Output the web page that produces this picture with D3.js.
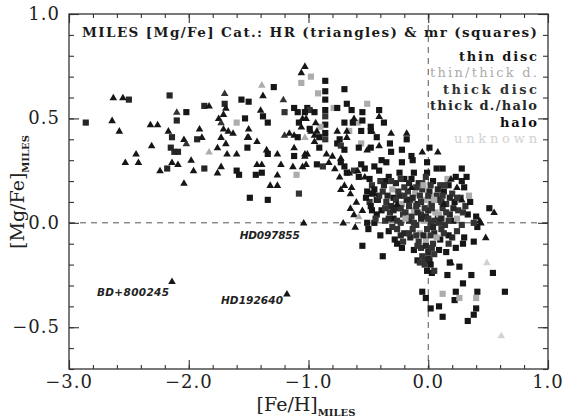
<!DOCTYPE html>
<html><head><meta charset="utf-8">
<script src="https://cdn.jsdelivr.net/npm/d3@7"></script>
<style>body{margin:0;background:#fff}svg{display:block}</style>
</head><body><svg id="c" width="574" height="419"></svg>
<script>
// ---- data ----
const X_TICKS = [-3, -2, -1, 0, 1];
const X_TICK_LABELS = ["\u22123.0", "\u22122.0", "\u22121.0", "0.0", "1.0"];
const Y_TICKS = [1, 0.5, 0, -0.5];
const Y_TICK_LABELS = ["1.0", "0.5", "0.0", "\u22120.5"];
const TITLE = "MILES [Mg/Fe] Cat.: HR (triangles) & mr (squares)";
const LEGEND_LABELS = ["thin disc", "thin/thick d.", "thick disc", "thick d./halo", "halo", "unknown"];
const POP_COLORS = ["#161616", "#acacac", "#333333", "#262626", "#0c0c0c", "#d2d2d2"];
const ANNOT_NAMES = ["HD097855", "BD+800245", "HD192640"];
const ANNOT_FEH = [-1.04, -2.14, -1.18];
const ANNOT_MGFE = [0.00, -0.28, -0.34];

// HR stars (triangles): [Fe/H], [Mg/Fe], population code
const HR_STARS = [
[-2.63,0.60,0],[-2.55,0.60,0],[-2.64,0.49,0],[-2.58,0.44,0],[-2.32,0.47,0],[-2.26,0.47,0],[-2.31,0.37,0],[-2.44,0.33,0],
[-2.53,0.29,0],[-2.42,0.29,0],[-2.24,0.25,0],[-2.10,0.53,2],[-2.17,0.44,0],[-2.04,0.40,0],[-2.02,0.38,2],[-2.14,0.29,0],
[-2.09,0.28,0],[-2.04,0.19,0],[-1.98,0.30,0],[-1.96,0.25,0],[-1.83,0.56,0],[-1.91,0.45,0],[-1.89,0.41,0],[-1.83,0.34,1],
[-1.76,0.36,0],[-1.73,0.27,0],[-1.76,0.24,0],[-1.68,0.33,0],[-1.60,0.33,0],[-1.73,0.41,0],[-1.69,0.38,0],[-1.75,0.50,0],
[-1.73,0.48,2],[-1.71,0.52,0],[-1.69,0.55,0],[-1.70,0.62,2],[-1.67,0.44,0],[-1.63,0.43,0],[-1.71,0.45,0],[-1.51,0.41,0],
[-1.03,0.75,0],[-1.06,0.72,0],[-1.39,0.66,1],[-1.38,0.61,0],[-1.21,0.59,2],[-1.40,0.54,0],[-1.02,0.50,0],[-0.94,0.48,0],
[-0.41,0.51,0],[-0.62,0.50,0],[-1.50,0.45,0],[-1.50,0.41,0],[-1.43,0.39,0],[-1.35,0.35,0],[-1.26,0.33,0],[-1.20,0.42,2],
[-1.16,0.43,0],[-1.12,0.42,0],[-1.03,0.41,1],[-0.98,0.44,0],[-0.95,0.42,0],[-1.12,0.36,0],[-1.03,0.33,0],[-0.76,0.44,0],
[-0.85,0.33,0],[-0.68,0.41,0],[-0.51,0.35,0],[-0.47,0.44,0],[-1.43,0.28,0],[-1.39,0.28,0],[-1.23,0.28,0],[-1.13,0.27,0],
[-1.05,0.27,0],[-0.78,0.26,0],[-1.26,0.23,0],[-1.32,0.18,0],[-1.26,0.18,0],[-1.04,0.00,0],[-0.71,0.00,0],[-0.61,-0.02,0],
[-0.74,0.22,0],[-0.70,0.18,0],[-0.73,0.16,0],[-0.64,0.17,0],[-0.65,0.14,0],[-0.60,0.10,0],[-0.65,0.07,0],[-0.62,0.04,0],
[-0.55,0.06,0],[-0.58,0.03,1],[-1.05,0.50,0],[-1.06,0.46,0],[-0.93,0.44,0],[-0.95,0.39,0],[-1.03,0.32,0],[-1.01,0.33,0],
[-0.73,0.31,0],[-0.68,0.44,0],[-0.66,0.24,0],[-0.41,0.37,0],[-0.59,0.25,0],[-0.53,0.22,0],[-1.02,0.28,0],[-0.83,0.29,0],
[-0.80,0.32,0],[-0.31,0.43,0],[-0.18,0.43,0],[-0.05,0.34,0],[0.08,0.34,0],[0.19,0.21,0],[0.24,0.17,0],[0.55,0.05,0],
[0.43,0.01,0],[0.19,-0.19,0],[0.48,-0.07,0],[0.49,-0.19,5],[0.61,-0.54,5],[-2.14,-0.28,0],[-1.18,-0.34,0],[0.44,0.00,0],
[-0.45,0.14,0],[-0.26,0.09,0],[-0.14,0.17,0],[0.13,0.09,0],[0.28,0.11,0]
];

// mr stars (squares): [Fe/H], [Mg/Fe], population code
const MR_STARS = [
[-2.86,0.48,3],[-2.50,0.59,3],[-2.18,0.26,3],[-2.16,0.61,3],[-2.10,0.49,3],[-2.02,0.53,0],[-2.14,0.41,3],[-2.15,0.36,3],
[-2.12,0.34,3],[-2.09,0.34,3],[-1.87,0.56,3],[-1.93,0.40,3],[-1.87,0.26,3],[-1.70,0.57,3],[-1.56,0.59,0],[-1.60,0.48,1],
[-1.53,0.50,0],[-1.60,0.25,0],[-1.58,0.23,0],[-1.51,0.36,0],[-0.98,0.70,1],[-1.06,0.67,1],[-1.29,0.65,0],[-0.86,0.68,0],
[-0.86,0.63,0],[-0.86,0.59,0],[-0.86,0.54,0],[-0.86,0.51,2],[-0.86,0.47,0],[-0.86,0.43,0],[-0.86,0.40,2],[-0.92,0.62,1],
[-0.70,0.64,0],[-1.50,0.58,0],[-1.38,0.51,0],[-1.34,0.48,0],[-1.12,0.55,0],[-1.20,0.53,2],[-1.09,0.53,0],[-1.01,0.55,0],
[-0.99,0.54,2],[-0.95,0.53,0],[-1.03,0.53,0],[-1.08,0.48,0],[-0.90,0.46,1],[-0.99,0.45,0],[-0.79,0.55,1],[-0.76,0.55,0],
[-0.68,0.57,0],[-0.64,0.54,0],[-0.51,0.57,1],[-0.55,0.53,0],[-0.41,0.54,0],[-0.70,0.48,0],[-0.59,0.48,1],[-0.55,0.49,0],
[-0.66,0.44,1],[-0.48,0.44,0],[-1.34,0.33,0],[-1.09,0.41,0],[-0.91,0.41,0],[-1.12,0.32,0],[-0.91,0.36,0],[-0.76,0.38,0],
[-0.73,0.37,2],[-0.70,0.35,0],[-0.56,0.38,1],[-0.58,0.36,0],[-0.43,0.41,0],[-0.39,0.30,0],[-0.93,0.28,0],[-0.88,0.27,2],
[-0.73,0.29,0],[-0.70,0.27,0],[-1.44,0.23,0],[-1.39,0.24,0],[-1.10,0.23,1],[-1.49,0.12,0],[-1.34,0.11,0],[-1.08,0.14,2],
[-0.56,0.28,0],[-0.53,0.26,0],[-0.62,0.25,2],[-0.68,0.24,0],[-0.58,0.22,0],[-0.49,0.21,0],[-0.47,0.18,2],[-0.51,0.15,0],
[-0.47,0.14,0],[-0.43,0.11,0],[-0.49,0.10,2],[-0.47,0.06,0],[-0.43,0.04,0],[-0.51,0.00,0],[-0.45,0.00,0],[-0.74,0.40,0],
[-0.63,0.48,0],[-0.56,0.44,0],[-0.48,0.46,0],[-0.48,0.36,0],[-0.35,0.29,0],[-0.45,0.27,0],[-0.41,0.25,0],[-0.37,0.48,0],
[-0.18,0.40,0],[-0.32,0.38,0],[-0.22,0.35,0],[0.01,0.36,0],[-0.31,0.34,0],[-0.14,0.32,0],[-0.13,0.30,0],[-0.22,0.29,0],
[-0.01,0.29,0],[0.07,0.26,0],[0.12,0.26,0],[-0.12,0.24,0],[-0.01,0.24,0],[-0.24,0.24,0],[0.28,0.26,0],[0.23,0.22,0],
[0.32,0.22,0],[0.28,0.20,0],[-0.36,0.20,0],[-0.20,0.21,0],[0.30,0.17,0],[0.34,0.13,1],[0.51,0.07,0],[0.40,0.03,0],
[-0.55,-0.11,0],[-0.38,-0.16,0],[-0.26,-0.10,0],[-0.22,-0.12,0],[-0.09,-0.18,0],[-0.03,-0.18,2],[0.01,-0.18,0],[-0.01,-0.23,0],
[0.03,-0.24,0],[0.05,-0.23,2],[0.09,-0.13,0],[0.15,-0.14,0],[0.18,-0.19,0],[0.26,-0.21,0],[0.16,-0.25,0],[0.23,-0.12,0],
[0.29,-0.10,0],[0.38,-0.09,0],[0.41,-0.02,0],[0.36,-0.25,0],[0.54,-0.24,0],[0.29,-0.29,0],[0.23,-0.33,0],[0.41,-0.33,0],
[0.64,-0.33,0],[0.12,-0.34,1],[-0.05,-0.33,0],[-0.02,-0.36,0],[0.22,-0.37,0],[0.26,-0.36,1],[0.40,-0.36,1],[0.40,-0.41,0],
[0.02,-0.41,0],[0.09,-0.40,0],[0.38,-0.44,0],[0.33,-0.47,0],[0.12,-0.45,0],
[-0.40,0.20,2],[-0.33,0.22,0],[-0.27,0.19,3],[-0.20,0.17,2],[-0.14,0.21,0],[-0.08,0.19,3],[-0.02,0.22,2],[0.04,0.20,0],
[0.10,0.18,2],[0.16,0.21,1],[-0.45,0.16,0],[-0.38,0.15,2],[-0.30,0.16,1],[-0.24,0.13,3],[-0.17,0.15,2],[-0.11,0.14,1],
[-0.05,0.16,2],[0.01,0.15,3],[0.07,0.13,2],[0.13,0.15,0],[0.20,0.14,2],[-0.42,0.11,3],[-0.35,0.10,2],[-0.29,0.12,0],
[-0.22,0.09,1],[-0.15,0.11,2],[-0.09,0.09,3],[-0.03,0.11,1],[0.03,0.09,2],[0.09,0.11,3],[0.15,0.09,2],[0.22,0.10,0],
[0.31,0.08,2],[-0.39,0.06,0],[-0.32,0.05,2],[-0.26,0.07,3],[-0.19,0.05,2],[-0.12,0.06,1],[-0.06,0.04,2],[0.00,0.06,3],
[0.06,0.05,1],[0.12,0.07,2],[0.18,0.04,3],[0.25,0.06,2],[0.33,0.04,0],[-0.36,0.01,2],[-0.29,0.02,0],[-0.23,0.00,2],
[-0.16,0.01,3],[-0.10,-0.01,2],[-0.04,0.01,1],[0.02,0.00,2],[0.08,0.02,3],[0.14,-0.01,2],[0.21,0.01,0],[0.28,-0.01,2],
[-0.33,-0.04,0],[-0.26,-0.03,2],[-0.20,-0.05,3],[-0.13,-0.03,2],[-0.07,-0.05,1],[-0.01,-0.03,2],[0.05,-0.05,3],[0.11,-0.03,2],
[0.17,-0.06,0],[0.24,-0.04,2],[-0.28,-0.08,0],[-0.21,-0.09,2],[-0.15,-0.07,3],[-0.08,-0.09,2],[-0.02,-0.08,1],[0.04,-0.10,2],
[0.10,-0.08,0],[0.17,-0.10,2],[-0.12,-0.13,0],[-0.06,-0.12,2],[0.00,-0.14,3],[0.05,-0.15,2],[-0.03,-0.20,2],[0.02,-0.20,0],
[-0.48,0.08,0],[-0.52,0.12,0],[-0.44,0.02,2],[-0.50,-0.03,0],[-0.40,-0.06,0],[0.27,0.12,2],[0.35,0.10,0],[0.38,0.00,2],
[0.30,-0.07,0],[-0.25,0.15,2],[-0.18,0.11,3],[-0.07,0.13,2],[0.02,0.12,1],[-0.14,0.03,2],[-0.02,0.03,3],[0.09,0.00,2],
[-0.21,0.04,2],[0.04,-0.02,3],[-0.10,0.08,2],[0.12,0.13,2],[-0.31,0.08,3],[0.17,0.18,0],[-0.05,0.19,2],
[-0.37,0.18,3],[-0.31,0.20,2],[-0.23,0.21,2],[-0.16,0.19,3],[-0.10,0.17,2],[-0.04,0.18,1],[0.02,0.18,2],[0.08,0.16,3],
[0.14,0.18,2],[-0.41,0.13,2],[-0.34,0.13,3],[-0.27,0.11,2],[-0.20,0.13,2],[-0.13,0.12,3],[-0.06,0.10,2],[0.00,0.13,2],
[0.05,0.11,1],[0.11,0.10,2],[0.18,0.12,3],[0.24,0.12,2],[-0.36,0.07,2],[-0.29,0.06,3],[-0.23,0.07,2],[-0.16,0.08,2],
[-0.09,0.05,3],[-0.03,0.07,2],[0.03,0.07,2],[0.09,0.04,1],[0.15,0.05,2],[0.21,0.07,3],[0.29,0.05,2],[-0.33,0.02,3],
[-0.26,0.01,2],[-0.19,0.02,1],[-0.12,0.00,2],[-0.06,0.02,3],[0.00,0.02,2],[0.05,0.01,2],[0.11,0.02,3],[0.17,0.01,2],
[0.24,0.02,1],[-0.30,-0.02,2],[-0.23,-0.06,3],[-0.16,-0.05,2],[-0.10,-0.06,2],[-0.04,-0.06,3],[0.02,-0.06,2],[0.07,-0.07,1],
[0.13,-0.05,2],[0.20,-0.07,3],[-0.09,-0.11,2],[-0.02,-0.11,3],[0.03,-0.12,2],[-0.05,-0.16,2],[0.00,-0.17,3],[-0.07,-0.19,2]
];

// ---- chart ----
const svg = d3.select("#c");
const M = {l: 69, r: 548, t: 14, b: 369};
const x = d3.scaleLinear().domain([-3, 1]).range([M.l, M.r]);
const y = d3.scaleLinear().domain([-0.7, 1.0]).range([M.b, M.t]);
const axisCol = "#333";
const serif = "'DejaVu Serif','Liberation Serif',serif";

// dashed reference lines
svg.append("line").attr("x1", x(-3)).attr("x2", x(1)).attr("y1", y(0)).attr("y2", y(0))
  .attr("stroke", "#555").attr("stroke-width", 1).attr("stroke-dasharray", "6,5");
svg.append("line").attr("x1", x(0)).attr("x2", x(0)).attr("y1", y(1)).attr("y2", y(-0.7))
  .attr("stroke", "#555").attr("stroke-width", 1).attr("stroke-dasharray", "6,5");

// axes with inward ticks (major + minor), on all four sides
function tickSet(axisGen, tr, vals, len) {
  svg.append("g").attr("transform", tr)
    .call(axisGen.tickValues(vals).tickSize(len).tickFormat(""))
    .call(g => { g.select(".domain").remove(); g.selectAll("line").attr("stroke", axisCol).attr("stroke-width", 1.1); });
}
const xMinor = d3.range(-3, 1.0001, 0.2).map(v => +v.toFixed(2));
const yMinor = d3.range(-0.7, 1.0001, 0.1).map(v => +v.toFixed(2));
tickSet(d3.axisTop(x), `translate(0,${M.b})`, xMinor, 4);
tickSet(d3.axisTop(x), `translate(0,${M.b})`, X_TICKS, 9);
tickSet(d3.axisBottom(x), `translate(0,${M.t})`, xMinor, 4);
tickSet(d3.axisBottom(x), `translate(0,${M.t})`, X_TICKS, 9);
tickSet(d3.axisRight(y), `translate(${M.l},0)`, yMinor, 5);
tickSet(d3.axisRight(y), `translate(${M.l},0)`, Y_TICKS, 10);
tickSet(d3.axisLeft(y), `translate(${M.r},0)`, yMinor, 5);
tickSet(d3.axisLeft(y), `translate(${M.r},0)`, Y_TICKS, 10);

svg.append("rect").attr("x", M.l).attr("y", M.t).attr("width", M.r - M.l).attr("height", M.b - M.t)
  .attr("fill", "none").attr("stroke", axisCol).attr("stroke-width", 1.3);

// tick labels
svg.append("g").selectAll("text").data(X_TICKS).join("text")
  .attr("x", d => x(d)).attr("y", 388).attr("text-anchor", "middle")
  .attr("font-family", serif).attr("font-size", 18).attr("letter-spacing", 1).attr("fill", "#222")
  .text((d, i) => X_TICK_LABELS[i]);
svg.append("g").selectAll("text").data(Y_TICKS).join("text")
  .attr("x", 60).attr("y", d => y(d) + 6).attr("text-anchor", "end")
  .attr("font-family", serif).attr("font-size", 18).attr("letter-spacing", 1).attr("fill", "#222")
  .text((d, i) => Y_TICK_LABELS[i]);

// axis titles
const xt = svg.append("text").attr("x", 306).attr("y", 411).attr("text-anchor", "middle")
  .attr("font-family", serif).attr("font-size", 19).attr("fill", "#222");
xt.append("tspan").text("[Fe/H]");
xt.append("tspan").attr("dy", 5).attr("font-size", 10).attr("font-weight", "bold").text("MILES");
const yt = svg.append("text").attr("transform", "translate(24,192) rotate(-90)").attr("text-anchor", "middle")
  .attr("font-family", serif).attr("font-size", 19).attr("fill", "#222");
yt.append("tspan").text("[Mg/Fe]");
yt.append("tspan").attr("dy", 5).attr("font-size", 10).attr("font-weight", "bold").text("MILES");

// title inside plot
svg.append("text").attr("x", 82).attr("y", 37).attr("font-family", serif).attr("font-weight", "bold")
  .attr("font-size", 13.5).attr("fill", "#1a1a1a").attr("textLength", 455).attr("lengthAdjust", "spacing")
  .text(TITLE);

// legend (right-aligned text)
const legLen = [78, 107, 94, 107, 37, 83];
svg.append("g").selectAll("text").data(LEGEND_LABELS).join("text")
  .attr("x", 537).attr("y", (d, i) => 61 + i * 16.4).attr("text-anchor", "end")
  .attr("font-family", serif).attr("font-weight", (d, i) => (i === 1 || i === 5) ? "normal" : "bold")
  .attr("font-size", 13).attr("fill", (d, i) => POP_COLORS[i])
  .attr("textLength", (d, i) => legLen[i]).attr("lengthAdjust", "spacing")
  .text(d => d);

// points
const sq = d3.symbol(d3.symbolSquare, 38);
const tri = d3.symbol(d3.symbolTriangle, 25);
svg.append("g").selectAll("path").data(MR_STARS).join("path")
  .attr("d", sq).attr("transform", d => `translate(${x(d[0])},${y(d[1])})`)
  .attr("fill", d => POP_COLORS[d[2]]);
svg.append("g").selectAll("path").data(HR_STARS).join("path")
  .attr("d", tri).attr("transform", d => `translate(${x(d[0])},${y(d[1]) + 0.5})`)
  .attr("fill", d => POP_COLORS[d[2]]);

// annotations
const annOff = [[-4, 16], [-3, 15], [-4, 10]];
svg.append("g").selectAll("text").data(ANNOT_NAMES).join("text")
  .attr("x", (d, i) => x(ANNOT_FEH[i]) + annOff[i][0]).attr("y", (d, i) => y(ANNOT_MGFE[i]) + annOff[i][1])
  .attr("text-anchor", "end").attr("font-family", "'DejaVu Sans',sans-serif").attr("font-style", "italic")
  .attr("font-weight", "bold").attr("font-size", 10.5).attr("fill", "#222")
  .attr("textLength", (d, i) => [60, 72, 62][i]).attr("lengthAdjust", "spacing")
  .text(d => d);
</script></body></html>
